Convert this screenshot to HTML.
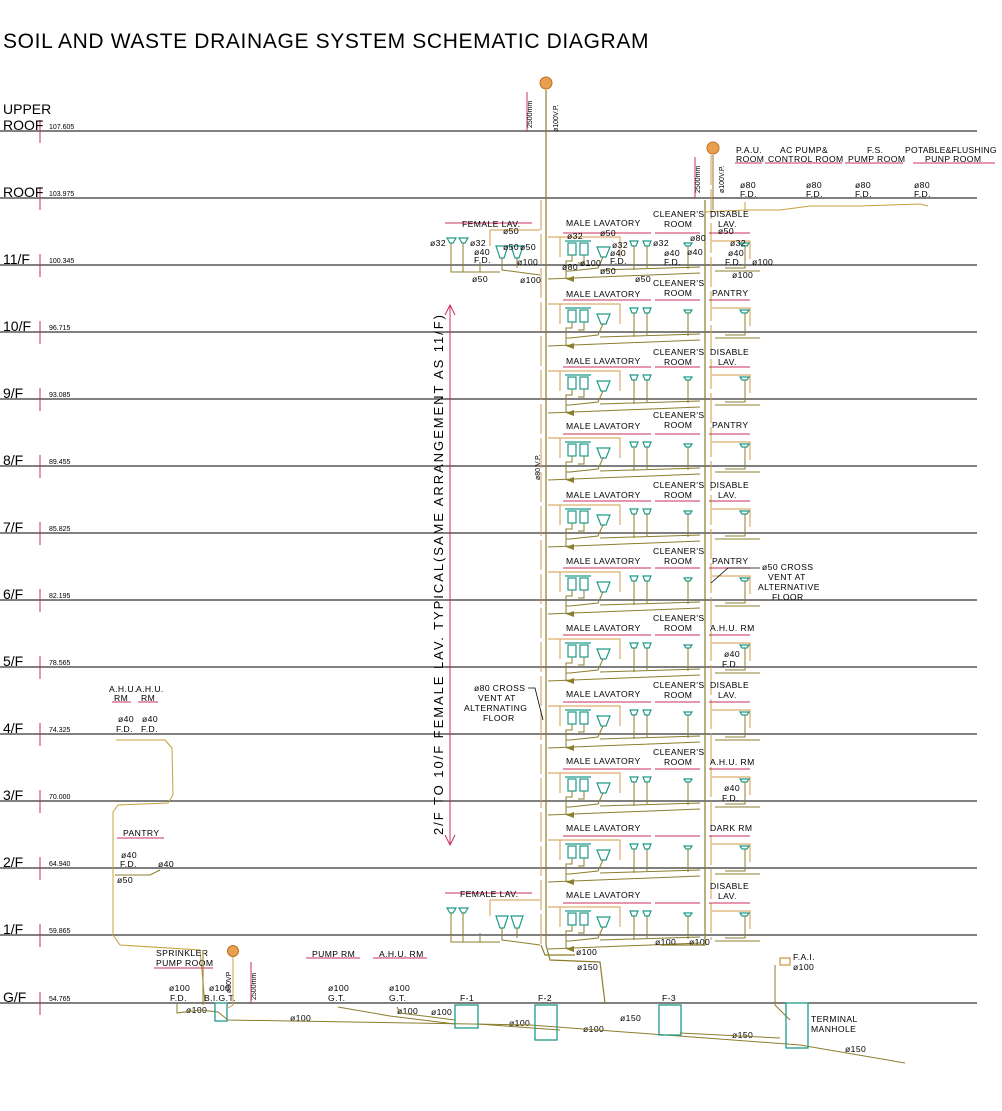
<!DOCTYPE html>
<html><head><meta charset="utf-8"><style>
html,body{margin:0;padding:0;background:#fff;}
svg{display:block;}
text{font-family:"Liberation Sans",sans-serif;}
.s{font-size:8.6px;fill:#000;letter-spacing:0.4px;}
.e{font-size:7px;fill:#000;}
.f{font-size:14px;fill:#000;}
</style></head><body>
<svg width="1002" height="1111" viewBox="0 0 1002 1111" xmlns="http://www.w3.org/2000/svg">
<defs>
<g id="tf">
 <g stroke="#c8305a" stroke-width="1">
  <line x1="563" y1="-32" x2="651" y2="-32"/><line x1="655" y1="-32" x2="700" y2="-32"/><line x1="709" y1="-32" x2="750" y2="-32"/>
 </g>
 <g stroke="#d59a4a" stroke-width="1" fill="none">
  <polyline points="548,-28 620,-28 620,-8"/>
  <polyline points="560,-28 560,-8"/>
  <polyline points="712,-24 750,-24 750,-6"/>
 </g>
 <g stroke="#1f9a8a" stroke-width="1.2" fill="none">
  <line x1="565" y1="-24" x2="591" y2="-24"/>
  <rect x="568" y="-22" width="8" height="12"/><rect x="580" y="-22" width="8" height="12"/>
  <polygon points="597,-18 610,-18 606,-8 601,-8"/>
  <polygon points="630,-24 638,-24 636,-19 632,-19"/><polygon points="643,-24 651,-24 649,-19 645,-19"/>
  <polygon points="684,-22 692,-22 690,-19 686,-19"/><polygon points="740,-22 749,-22 747,-19 742,-19"/>
 </g>
 <g stroke="#8c7d2c" stroke-width="1" fill="none">
  <polyline points="572,-10 572,-4 566,-4 566,14"/><polyline points="584,-10 584,-2 578,-2"/>
  <polyline points="603,-8 598,3 570,6 566,6"/>
  <polyline points="634,-19 634,5"/><polyline points="647,-19 647,3"/>
  <polyline points="688,-19 688,4"/><polyline points="745,-19 745,3 725,3"/>
  <polyline points="548,14 700,8"/>
  <polyline points="600,5 700,2"/>
  <polyline points="715,6 760,6"/>
 </g>
 <polygon points="566,14 574,11 574,17" fill="#8c7d2c"/>
</g>
<g id="fl" fill="none">
 <line x1="445" y1="-42" x2="532" y2="-42" stroke="#c8305a"/>
 <g stroke="#1f9a8a" stroke-width="1.2">
  <polygon points="447,-27 456,-27 453,-22 450,-22"/><polygon points="459,-27 468,-27 465,-22 462,-22"/>
  <polygon points="496,-19 508,-19 504,-7 500,-7"/><polygon points="511,-19 523,-19 519,-7 515,-7"/>
 </g>
 <g stroke="#8c7d2c">
  <polyline points="451,-22 451,7 500,7"/><polyline points="463,-22 463,7"/><polyline points="502,-7 502,5 540,10"/><polyline points="517,-7 517,3"/><polyline points="480,-2 480,7"/>
 </g>
 <polyline points="490,-19 490,-35 540,-35" stroke="#d59a4a"/>
</g>
</defs>

<text x="3" y="48" style="font-size:21px;letter-spacing:-0.5px" textLength="645">SOIL AND WASTE DRAINAGE SYSTEM SCHEMATIC DIAGRAM</text>

<g stroke="#000" stroke-width="1">
<line x1="0" y1="131" x2="977" y2="131"/><line x1="0" y1="198" x2="977" y2="198"/>
<line x1="0" y1="265" x2="977" y2="265"/><line x1="0" y1="332" x2="977" y2="332"/>
<line x1="0" y1="399" x2="977" y2="399"/><line x1="0" y1="466" x2="977" y2="466"/>
<line x1="0" y1="533" x2="977" y2="533"/><line x1="0" y1="600" x2="977" y2="600"/>
<line x1="0" y1="667" x2="977" y2="667"/><line x1="0" y1="734" x2="977" y2="734"/>
<line x1="0" y1="801" x2="977" y2="801"/><line x1="0" y1="868" x2="977" y2="868"/>
<line x1="0" y1="935" x2="977" y2="935"/><line x1="0" y1="1003" x2="977" y2="1003"/>
</g>
<g stroke="#c8305a" stroke-width="1">
<line x1="40" y1="120" x2="40" y2="143"/><line x1="40" y1="187" x2="40" y2="210"/>
<line x1="40" y1="254" x2="40" y2="277"/><line x1="40" y1="321" x2="40" y2="344"/>
<line x1="40" y1="388" x2="40" y2="411"/><line x1="40" y1="455" x2="40" y2="478"/>
<line x1="40" y1="522" x2="40" y2="545"/><line x1="40" y1="589" x2="40" y2="612"/>
<line x1="40" y1="656" x2="40" y2="679"/><line x1="40" y1="723" x2="40" y2="746"/>
<line x1="40" y1="790" x2="40" y2="813"/><line x1="40" y1="857" x2="40" y2="880"/>
<line x1="40" y1="924" x2="40" y2="947"/><line x1="40" y1="992" x2="40" y2="1015"/>
</g>
<g class="f">
<text x="3" y="114">UPPER</text><text x="3" y="130">ROOF</text><text x="3" y="197">ROOF</text>
<text x="3" y="264">11/F</text><text x="3" y="331">10/F</text><text x="3" y="398">9/F</text>
<text x="3" y="465">8/F</text><text x="3" y="532">7/F</text><text x="3" y="599">6/F</text>
<text x="3" y="666">5/F</text><text x="3" y="733">4/F</text><text x="3" y="800">3/F</text>
<text x="3" y="867">2/F</text><text x="3" y="934">1/F</text><text x="3" y="1002">G/F</text>
</g>
<g class="e">
<text x="49" y="129">107.605</text><text x="49" y="196">103.975</text><text x="49" y="263">100.345</text>
<text x="49" y="330">96.715</text><text x="49" y="397">93.085</text><text x="49" y="464">89.455</text>
<text x="49" y="531">85.825</text><text x="49" y="598">82.195</text><text x="49" y="665">78.565</text>
<text x="49" y="732">74.325</text><text x="49" y="799">70.000</text><text x="49" y="866">64.940</text>
<text x="49" y="933">59.865</text><text x="49" y="1001">54.765</text>
</g>

<g fill="none">
<line x1="546" y1="90" x2="546" y2="945" stroke="#8c7d2c" stroke-width="1.2"/>
<line x1="541" y1="200" x2="541" y2="945" stroke="#d59a4a" stroke-width="1" stroke-dasharray="30,4"/>
<line x1="705" y1="200" x2="705" y2="940" stroke="#8c7d2c" stroke-width="1.2"/>
<line x1="711" y1="155" x2="711" y2="940" stroke="#d59a4a" stroke-width="1" stroke-dasharray="30,4"/>
<line x1="713" y1="155" x2="713" y2="210" stroke="#8c7d2c"/>
<line x1="527" y1="92" x2="527" y2="131" stroke="#c8305a"/>
<line x1="695" y1="157" x2="695" y2="198" stroke="#c8305a"/>
</g>
<circle cx="546" cy="83" r="6" fill="#e8a050" stroke="#c07020"/>
<circle cx="713" cy="148" r="6" fill="#e8a050" stroke="#c07020"/>
<text class="e" transform="translate(532,128) rotate(-90)">2500mm</text>
<text class="e" transform="translate(558,132) rotate(-90)">ø100V.P.</text>
<text class="e" transform="translate(700,193) rotate(-90)">2500mm</text>
<text class="e" transform="translate(724,193) rotate(-90)">ø100V.P.</text>
<text class="e" transform="translate(540,480) rotate(-90)">ø80 V.P.</text>

<g stroke="#c8305a"><line x1="735" y1="163" x2="762" y2="163"/><line x1="765" y1="163" x2="842" y2="163"/><line x1="845" y1="163" x2="903" y2="163"/><line x1="913" y1="163" x2="995" y2="163"/></g>
<g class="s">
<text x="736" y="153">P.A.U.</text><text x="736" y="162">ROOM</text>
<text x="780" y="153">AC PUMP&amp;</text><text x="768" y="162">CONTROL ROOM</text>
<text x="867" y="153">F.S.</text><text x="848" y="162">PUMP ROOM</text>
<text x="905" y="153" textLength="92">POTABLE&amp;FLUSHING</text><text x="925" y="162">PUNP ROOM</text>
<text x="740" y="188">ø80</text><text x="740" y="197">F.D.</text>
<text x="806" y="188">ø80</text><text x="806" y="197">F.D.</text>
<text x="855" y="188">ø80</text><text x="855" y="197">F.D.</text>
<text x="914" y="188">ø80</text><text x="914" y="197">F.D.</text>
</g>
<polyline points="705,212 745,210 745,202 745,210 780,210 810,206 860,206 920,204 928,206" fill="none" stroke="#c8a03a"/>

<use href="#tf" y="332"/><use href="#tf" y="399"/><use href="#tf" y="466"/>
<use href="#tf" y="533"/><use href="#tf" y="600"/><use href="#tf" y="667"/>
<use href="#tf" y="734"/><use href="#tf" y="801"/><use href="#tf" y="868"/>
<use href="#tf" y="935"/><use href="#tf" y="265"/>
<use href="#fl" y="265"/><use href="#fl" y="935"/>
<g class="s">
<text x="566" y="297">MALE LAVATORY</text><text x="653" y="286">CLEANER'S</text><text x="664" y="296">ROOM</text><text x="712" y="296">PANTRY</text>
<text x="566" y="364">MALE LAVATORY</text><text x="653" y="355">CLEANER'S</text><text x="664" y="365">ROOM</text><text x="710" y="355">DISABLE</text><text x="718" y="365">LAV.</text>
<text x="566" y="429">MALE LAVATORY</text><text x="653" y="418">CLEANER'S</text><text x="664" y="428">ROOM</text><text x="712" y="428">PANTRY</text>
<text x="566" y="498">MALE LAVATORY</text><text x="653" y="488">CLEANER'S</text><text x="664" y="498">ROOM</text><text x="710" y="488">DISABLE</text><text x="718" y="498">LAV.</text>
<text x="566" y="564">MALE LAVATORY</text><text x="653" y="554">CLEANER'S</text><text x="664" y="564">ROOM</text><text x="712" y="564">PANTRY</text>
<text x="566" y="631">MALE LAVATORY</text><text x="653" y="621">CLEANER'S</text><text x="664" y="631">ROOM</text><text x="710" y="631">A.H.U. RM</text>
<text x="566" y="697">MALE LAVATORY</text><text x="653" y="688">CLEANER'S</text><text x="664" y="698">ROOM</text><text x="710" y="688">DISABLE</text><text x="718" y="698">LAV.</text>
<text x="566" y="764">MALE LAVATORY</text><text x="653" y="755">CLEANER'S</text><text x="664" y="765">ROOM</text><text x="710" y="765">A.H.U. RM</text>
<text x="566" y="831">MALE LAVATORY</text><text x="710" y="831">DARK RM</text>
<text x="566" y="898">MALE LAVATORY</text><text x="710" y="889">DISABLE</text><text x="718" y="899">LAV.</text>
<text x="566" y="226">MALE LAVATORY</text><text x="653" y="217">CLEANER'S</text><text x="664" y="227">ROOM</text><text x="710" y="217">DISABLE</text><text x="718" y="227">LAV.</text>
<text x="724" y="657">ø40</text><text x="722" y="667">F.D.</text>
<text x="724" y="791">ø40</text><text x="722" y="801">F.D.</text>
<text x="762" y="570">ø50 CROSS</text><text x="768" y="580">VENT AT</text><text x="758" y="590">ALTERNATIVE</text><text x="772" y="600">FLOOR</text>
<text x="474" y="691">ø80 CROSS</text><text x="478" y="701">VENT AT</text><text x="464" y="711">ALTERNATING</text><text x="483" y="721">FLOOR</text>
<text x="462" y="227">FEMALE LAV.</text><text x="460" y="897">FEMALE LAV.</text>
<text x="430" y="246">ø32</text><text x="470" y="246">ø32</text><text x="474" y="255">ø40</text><text x="474" y="263">F.D.</text>
<text x="503" y="234">ø50</text><text x="503" y="250">ø50</text><text x="520" y="250">ø50</text><text x="517" y="265">ø100</text>
<text x="472" y="282">ø50</text><text x="520" y="283">ø100</text>
<text x="567" y="239">ø32</text><text x="600" y="236">ø50</text><text x="612" y="248">ø32</text><text x="653" y="246">ø32</text><text x="610" y="256">ø40</text><text x="610" y="264">F.D.</text>
<text x="664" y="256">ø40</text><text x="664" y="265">F.D.</text><text x="690" y="241">ø80</text><text x="687" y="255">ø40</text>
<text x="718" y="234">ø50</text><text x="730" y="246">ø32</text><text x="728" y="256">ø40</text><text x="725" y="265">F.D.</text><text x="752" y="265">ø100</text><text x="732" y="278">ø100</text>
<text x="562" y="270">ø80</text><text x="580" y="266">ø100</text><text x="600" y="274">ø50</text><text x="635" y="282">ø50</text>
<text x="655" y="945">ø100</text><text x="689" y="945">ø100</text>
<text x="576" y="955">ø100</text><text x="577" y="970">ø150</text>
</g>
<g fill="none" stroke="#8c7d2c" stroke-width="1.2">
<polyline points="546,945 550,960 600,962 605,1003"/>
<polyline points="541,945 545,955 575,955"/>
<polyline points="705,940 705,945 660,945"/>
</g>
<polyline points="711,583 728,568 760,568" fill="none" stroke="#000" stroke-width="0.8"/>
<polyline points="528,688 535,688 543,720" fill="none" stroke="#000" stroke-width="0.8"/>

<line x1="450" y1="305" x2="450" y2="845" stroke="#c8305a"/>
<polyline points="445,315 450,305 455,315" fill="none" stroke="#c8305a"/>
<polyline points="445,835 450,845 455,835" fill="none" stroke="#c8305a"/>
<text transform="translate(443,835) rotate(-90)" style="font-size:13px" textLength="520">2/F TO 10/F FEMALE LAV. TYPICAL(SAME ARRANGEMENT AS 11/F)</text>

<polyline points="116,740 165,740 172,748 173,795 168,803 118,805 113,812 113,935 120,945 200,950 205,1003" fill="none" stroke="#c8a03a"/>
<polyline points="115,875 150,875 160,870" fill="none" stroke="#8c7d2c"/>
<g stroke="#c8305a"><line x1="112" y1="702" x2="131" y2="702"/><line x1="138" y1="702" x2="158" y2="702"/><line x1="117" y1="838" x2="164" y2="838"/><line x1="154" y1="968" x2="213" y2="968"/><line x1="306" y1="958" x2="360" y2="958"/><line x1="373" y1="958" x2="427" y2="958"/></g>
<g class="s">
<text x="109" y="692">A.H.U.</text><text x="136" y="692">A.H.U.</text><text x="114" y="701">RM</text><text x="141" y="701">RM</text>
<text x="118" y="722">ø40</text><text x="142" y="722">ø40</text><text x="116" y="732">F.D.</text><text x="141" y="732">F.D.</text>
<text x="123" y="836">PANTRY</text><text x="121" y="858">ø40</text><text x="120" y="867">F.D.</text><text x="158" y="867">ø40</text><text x="117" y="883">ø50</text>
<text x="156" y="956">SPRINKLER</text><text x="156" y="966">PUMP ROOM</text><text x="312" y="957">PUMP RM</text><text x="379" y="957">A.H.U. RM</text>
<text x="169" y="991">ø100</text><text x="170" y="1001">F.D.</text><text x="209" y="991">ø100</text><text x="204" y="1001">B.I.G.T.</text>
<text x="328" y="991">ø100</text><text x="328" y="1001">G.T.</text><text x="389" y="991">ø100</text><text x="389" y="1001">G.T.</text>
<text x="186" y="1013">ø100</text><text x="290" y="1021">ø100</text><text x="397" y="1014">ø100</text><text x="431" y="1015">ø100</text>
<text x="509" y="1026">ø100</text><text x="583" y="1032">ø100</text><text x="620" y="1021">ø150</text><text x="732" y="1038">ø150</text><text x="845" y="1052">ø150</text>
<text x="460" y="1001">F-1</text><text x="538" y="1001">F-2</text><text x="662" y="1001">F-3</text>
<text x="793" y="960">F.A.I.</text><text x="793" y="970">ø100</text>
<text x="811" y="1022">TERMINAL</text><text x="811" y="1032">MANHOLE</text>
</g>
<text class="e" transform="translate(231,993) rotate(-90)">ø50VP</text>
<text class="e" transform="translate(256,1000) rotate(-90)">2500mm</text>
<line x1="251" y1="962" x2="251" y2="1003" stroke="#c8305a"/>
<circle cx="233" cy="951" r="5.5" fill="#e8a050" stroke="#c07020"/>
<polyline points="233,957 233,1005 228,1008" fill="none" stroke="#d59a4a"/>
<line x1="203" y1="950" x2="203" y2="1005" stroke="#8c7d2c"/>

<g fill="none" stroke="#8c7d2c" stroke-width="1">
<polyline points="177,1003 177,1013 200,1010 218,1012 228,1020 530,1025 800,1045 905,1063"/>
<polyline points="338,1007 390,1016 455,1024"/>
<polyline points="397,1007 400,1013 455,1020"/>
<polyline points="478,1024 560,1030"/>
<polyline points="680,1033 780,1038"/>
<polyline points="775,965 775,1005 790,1020"/>
</g>
<g fill="none" stroke="#1f9a8a" stroke-width="1.3">
<rect x="215" y="1003" width="12" height="18"/>
<rect x="455" y="1005" width="23" height="23"/><rect x="535" y="1005" width="22" height="35"/>
<rect x="659" y="1005" width="22" height="30"/><rect x="786" y="1003" width="22" height="45"/>
<rect x="780" y="958" width="10" height="7" stroke="#d59a4a"/>
</g>
</svg>
</body></html>
